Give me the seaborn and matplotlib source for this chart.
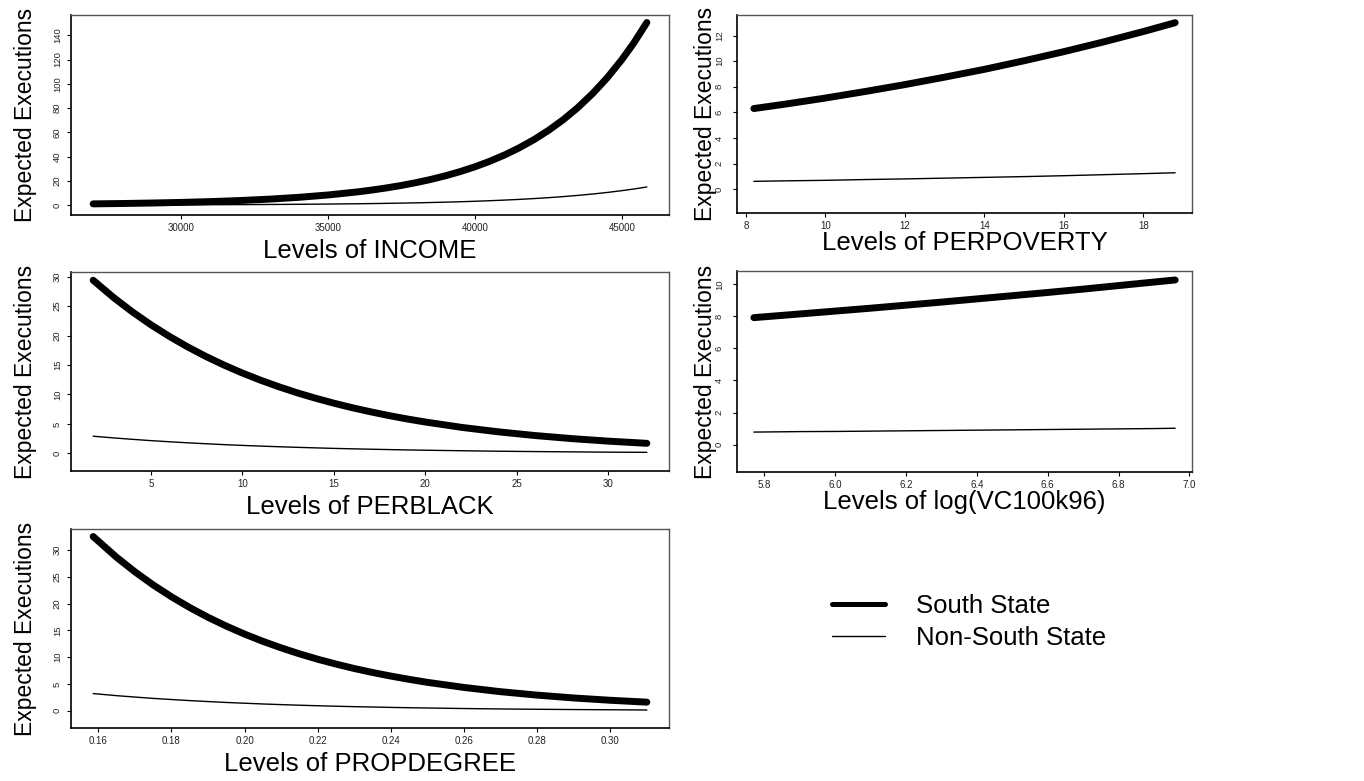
import numpy as np
import pandas as pd
import matplotlib
matplotlib.use("Agg")
import matplotlib.pyplot as plt
import seaborn as sns
from matplotlib.lines import Line2D

sns.set_style("ticks")
plt.rcParams["font.family"] = ["Liberation Sans", "DejaVu Sans"]
plt.rcParams["text.color"] = "black"
plt.rcParams["axes.labelcolor"] = "black"

# ---------------- data ----------------
income_x = [27000, 28000, 29000, 30000, 31000, 32000, 33000, 34000, 35000, 36000,
            36500, 37000, 37500, 38000, 38500, 39000, 39500, 40000, 40500, 41000,
            41500, 42000, 42500, 43000, 43500, 44000, 44500, 45000, 45400, 45845]
income_south = [0.98, 1.28, 1.68, 2.19, 2.86, 3.73, 4.88, 6.37, 8.32, 10.86,
                12.41, 14.19, 16.21, 18.53, 21.17, 24.20, 27.65, 31.6, 36.11, 41.27,
                47.17, 53.90, 61.60, 70.40, 80.45, 91.95, 105.07, 120.1, 133.6, 150.5]
income_nonsouth = [0.10, 0.13, 0.17, 0.22, 0.28, 0.37, 0.48, 0.63, 0.82, 1.08,
                   1.23, 1.40, 1.60, 1.83, 2.10, 2.40, 2.74, 3.13, 3.58, 4.09,
                   4.67, 5.34, 6.10, 6.97, 7.97, 9.10, 10.40, 11.89, 13.23, 14.90]

pov_x = [8.2, 9, 10, 11, 12, 13, 14, 15, 16, 17, 18, 18.8]
pov_south = [6.30, 6.65, 7.12, 7.63, 8.17, 8.75, 9.36, 10.03, 10.74, 11.50, 12.31, 13.0]
pov_nonsouth = [0.62, 0.66, 0.70, 0.76, 0.81, 0.87, 0.93, 0.99, 1.06, 1.14, 1.22, 1.29]

black_x = [1.85, 3, 4, 5, 6, 7, 8, 9, 10, 11, 12, 13, 14, 15, 16, 17, 18, 19, 20,
           22, 24, 26, 28, 30, 32.1]
black_south = [29.4, 26.38, 24.01, 21.85, 19.89, 18.10, 16.47, 14.99, 13.64, 12.42,
               11.30, 10.28, 9.36, 8.52, 7.75, 7.06, 6.42, 5.84, 5.32,
               4.40, 3.65, 3.02, 2.50, 2.07, 1.70]
black_nonsouth = [2.91, 2.61, 2.38, 2.16, 1.97, 1.79, 1.63, 1.48, 1.35, 1.23,
                  1.12, 1.02, 0.93, 0.84, 0.77, 0.70, 0.64, 0.58, 0.53,
                  0.44, 0.36, 0.30, 0.25, 0.20, 0.17]

vc_x = [5.77, 5.9, 6.0, 6.1, 6.2, 6.3, 6.4, 6.5, 6.6, 6.7, 6.8, 6.9, 6.96]
vc_south = [7.92, 8.15, 8.33, 8.51, 8.70, 8.89, 9.09, 9.29, 9.49, 9.70, 9.92, 10.14, 10.27]
vc_nonsouth = [0.78, 0.81, 0.82, 0.84, 0.86, 0.88, 0.90, 0.92, 0.94, 0.96, 0.98, 1.00, 1.02]

deg_x = [0.1586, 0.165, 0.17, 0.175, 0.18, 0.185, 0.19, 0.195, 0.20, 0.205, 0.21,
         0.215, 0.22, 0.225, 0.23, 0.235, 0.24, 0.245, 0.25, 0.26,
         0.27, 0.28, 0.29, 0.30, 0.31]
deg_south = [32.5, 28.63, 25.93, 23.48, 21.27, 19.26, 17.44, 15.80, 14.31, 12.96, 11.74,
             10.63, 9.62, 8.72, 7.89, 7.15, 6.48, 5.87, 5.31, 4.36,
             3.57, 2.93, 2.40, 1.97, 1.62]
deg_nonsouth = [3.22, 2.83, 2.57, 2.32, 2.11, 1.91, 1.73, 1.56, 1.42, 1.28, 1.16,
                1.05, 0.95, 0.86, 0.78, 0.71, 0.64, 0.58, 0.53, 0.43,
                0.35, 0.29, 0.24, 0.20, 0.16]

series_labels = ["South State", "Non-South State"]
x_labels = ["Levels of INCOME", "Levels of PERPOVERTY", "Levels of PERBLACK",
            "Levels of log(VC100k96)", "Levels of PROPDEGREE"]
y_label = "Expected Executions"

x_ticks = [[30000, 35000, 40000, 45000],
           [8, 10, 12, 14, 16, 18],
           [5, 10, 15, 20, 25, 30],
           [5.8, 6.0, 6.2, 6.4, 6.6, 6.8, 7.0],
           [0.16, 0.18, 0.20, 0.22, 0.24, 0.26, 0.28, 0.30]]
x_tick_labels = [["30000", "35000", "40000", "45000"],
                 ["8", "10", "12", "14", "16", "18"],
                 ["5", "10", "15", "20", "25", "30"],
                 ["5.8", "6.0", "6.2", "6.4", "6.6", "6.8", "7.0"],
                 ["0.16", "0.18", "0.20", "0.22", "0.24", "0.26", "0.28", "0.30"]]
y_ticks = [[0, 20, 40, 60, 80, 100, 120, 140],
           [0, 2, 4, 6, 8, 10, 12],
           [0, 5, 10, 15, 20, 25, 30],
           [0, 2, 4, 6, 8, 10],
           [0, 5, 10, 15, 20, 25, 30]]
y_lims = [(-8.2, 156.7), (-1.85, 13.6), (-3.0, 30.8), (-1.71, 10.83), (-3.2, 33.9)]

panels = [(income_x, income_south, income_nonsouth),
          (pov_x, pov_south, pov_nonsouth),
          (black_x, black_south, black_nonsouth),
          (vc_x, vc_south, vc_nonsouth),
          (deg_x, deg_south, deg_nonsouth)]

# ---------------- figure ----------------
W, H = 1364, 781
fig = plt.figure(figsize=(W / 100, H / 100), dpi=100)

boxes = [(71, 669, 15, 215), (737, 1192, 15, 213),
         (71, 669, 272, 471), (737, 1192, 271, 472),
         (71, 669, 529, 728)]
col_geom = {0: dict(ylab_right=37, xlab_gap=24, ypad=3.5),
            1: dict(ylab_right=717, xlab_gap=18, ypad=6.5)}

def frac(l, r, t, b):
    return [l / W, 1 - b / H, (r - l) / W, (b - t) / H]

for i, ((xs, ys, yn), box) in enumerate(zip(panels, boxes)):
    l, r, t, b = box
    col = 0 if l < 400 else 1
    g = col_geom[col]
    ax = fig.add_axes(frac(*box))
    df = pd.DataFrame({"x": xs + xs,
                       "y": ys + yn,
                       "series": [series_labels[0]] * len(xs) + [series_labels[1]] * len(xs)})
    sns.lineplot(data=df[df.series == series_labels[0]], x="x", y="y", ax=ax,
                 color="black", linewidth=5.0, solid_capstyle="round",
                 solid_joinstyle="round")
    sns.lineplot(data=df[df.series == series_labels[1]], x="x", y="y", ax=ax,
                 color="black", linewidth=1.0)
    xmin, xmax = min(xs), max(xs)
    pad = 0.04 * (xmax - xmin)
    ax.set_xlim(xmin - pad, xmax + pad)
    ax.set_ylim(*y_lims[i])
    ax.set_xticks(x_ticks[i])
    ax.set_xticklabels(x_tick_labels[i])
    ax.set_yticks(y_ticks[i])
    ax.set_yticklabels([str(v) for v in y_ticks[i]], rotation=90, va="center")
    ax.tick_params(axis="both", length=3, width=0.8, colors="black",
                   labelcolor="#222222", direction="out")
    ax.tick_params(axis="x", labelsize=7, pad=2.5)
    ax.tick_params(axis="y", labelsize=6.8, pad=g["ypad"])
    ax.set_xlabel(x_labels[i], fontsize=18.5, color="black")
    ax.set_ylabel(y_label, fontsize=16.5, color="black")
    ax.xaxis.set_label_coords(0.5, -g["xlab_gap"] / (b - t))
    ax.yaxis.set_label_coords((g["ylab_right"] - l) / (r - l), 0.5)
    for s in ["left", "bottom"]:
        ax.spines[s].set_color("black")
        ax.spines[s].set_linewidth(1.2)
    for s in ["top", "right"]:
        ax.spines[s].set_visible(True)
        ax.spines[s].set_color("#555555")
        ax.spines[s].set_linewidth(1.0)
    if ax.get_legend() is not None:
        ax.get_legend().remove()

handles = [Line2D([0], [0], color="black", linewidth=3.6, solid_capstyle="round"),
           Line2D([0], [0], color="black", linewidth=1.0)]
leg = fig.legend(handles, series_labels, loc="upper left",
                 bbox_to_anchor=(832 / W, 1 - 594 / H), frameon=False,
                 fontsize=18.5, handlelength=2.06, handletextpad=1.22,
                 labelspacing=0.3, borderpad=0, borderaxespad=0)
for txt in leg.get_texts():
    txt.set_color("black")

fig.savefig("out.png", dpi=100)
